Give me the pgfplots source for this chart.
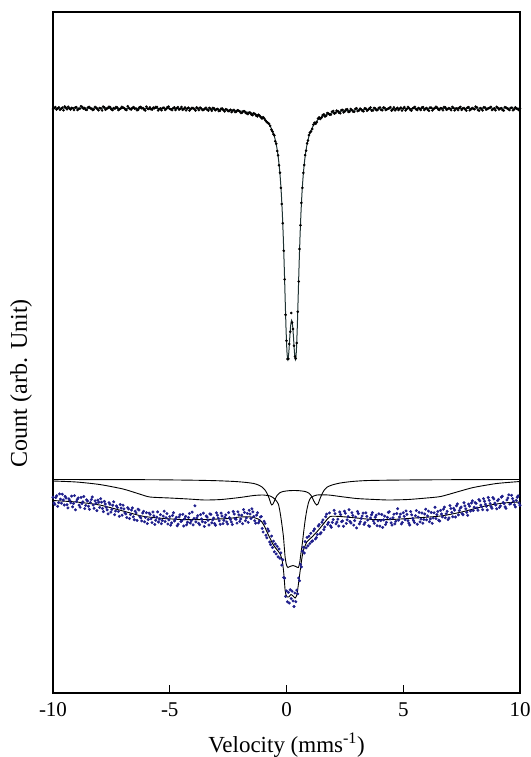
\documentclass[border=0pt]{standalone}
\usepackage{fontspec}
\setmainfont{Liberation Serif}
\usepackage{pgfplots}
\pgfplotsset{compat=1.18}
\definecolor{fitdark}{RGB}{30,50,50}
\definecolor{navydot}{RGB}{30,30,140}
\begin{document}
\begin{tikzpicture}
\begin{axis}[
  scale only axis, width=467pt, height=681pt,
  xmin=-10, xmax=10, ymin=12, ymax=693, y dir=reverse,
  xtick={-10,-5,0,5,10}, xticklabels={-10,-5,0,5,10},
  ytick=\empty, xtick pos=bottom, tick align=inside,
  major tick length=8.5pt,
  axis line style={line width=1.2pt},
  every tick/.style={black, line width=1pt},
  xticklabel style={font=\fontsize{21}{24}\selectfont, yshift=-6pt},
  xlabel={Velocity (mms\textsuperscript{-1})},
  ylabel={Count (arb. Unit)},
  xlabel style={font=\fontsize{23}{26}\selectfont, at={(axis description cs:0.5,0)}, anchor=center, yshift=-52pt},
  ylabel style={font=\fontsize{24}{27}\selectfont, at={(axis description cs:-0.0685,0.455)}, anchor=center},
]
% upper spectrum: measured points (two interleaved sets of channels)
\addplot[only marks, mark=*, mark size=1.1pt, black] table {
x y
-10.0 108.9
-9.9 107.1
-9.8 108.5
-9.7 109.8
-9.6 107.6
-9.5 106.5
-9.4 109.2
-9.3 108.4
-9.2 107.9
-9.1 110.1
-9.0 107.2
-8.9 108.9
-8.8 106.3
-8.7 108.7
-8.6 109.6
-8.5 107.5
-8.4 108.3
-8.3 110.0
-8.2 106.9
-8.1 109.0
-8.0 108.0
-7.9 110.4
-7.8 107.4
-7.7 108.8
-7.6 106.7
-7.5 109.3
-7.4 108.1
-7.3 107.0
-7.2 110.0
-7.1 108.5
-7.0 107.6
-6.9 109.7
-6.8 106.2
-6.7 109.1
-6.6 107.8
-6.5 108.6
-6.4 110.2
-6.3 107.3
-6.2 108.3
-6.1 109.5
-6.0 106.7
-5.9 109.0
-5.8 109.3
-5.7 107.6
-5.6 106.9
-5.5 110.4
-5.4 108.5
-5.3 107.9
-5.2 109.9
-5.1 107.2
-5.0 108.7
-4.9 110.1
-4.8 107.4
-4.7 108.3
-4.6 109.6
-4.5 107.0
-4.4 108.9
-4.3 110.3
-4.2 107.7
-4.1 109.1
-4.0 108.0
-3.9 110.5
-3.8 108.2
-3.7 107.6
-3.6 110.0
-3.5 108.8
-3.4 109.6
-3.3 107.9
-3.2 110.8
-3.1 108.4
-3.0 109.2
-2.9 111.0
-2.8 108.7
-2.7 110.1
-2.6 109.3
-2.5 111.2
-2.4 109.8
-2.3 110.6
-2.2 112.0
-2.1 110.2
-2.0 111.5
-1.9 112.6
-1.8 111.3
-1.7 113.4
-1.6 112.5
-1.5 114.6
-1.4 113.2
-1.3 115.6
-1.2 114.8
-1.1 117.3
-1.0 117.2
-0.9 120.6
-0.8 122.9
-0.7 125.8
-0.6 131.6
-0.56 134.1
-0.52 135.4
-0.48 141.2
-0.44 143.8
-0.40 151.0
-0.36 155.3
-0.32 165.2
-0.28 172.8
-0.24 187.8
-0.20 204.0
-0.16 223.3
-0.12 250.8
-0.08 279.3
-0.04 314.8
0.00 340.8
0.04 359.0
0.08 358.8
0.12 344.0
0.16 331.7
0.20 313.0
0.24 322.6
0.28 329.0
0.32 345.8
0.36 356.5
0.40 358.5
0.44 343.0
0.48 311.8
0.52 281.5
0.56 249.0
0.60 225.2
0.64 202.9
0.68 187.9
0.72 172.9
0.76 164.9
0.80 155.1
0.84 150.7
0.88 143.4
0.92 140.6
0.96 135.1
1.0 132.7
1.1 129.0
1.2 122.8
1.3 122.1
1.4 117.4
1.5 117.6
1.6 114.3
1.7 115.8
1.8 113.6
1.9 114.7
2.0 111.0
2.1 112.9
2.2 111.2
2.3 113.3
2.4 109.9
2.5 111.3
2.6 109.2
2.7 111.8
2.8 110.1
2.9 111.8
3.0 108.2
3.1 110.5
3.2 109.4
3.3 111.3
3.4 108.6
3.5 109.8
3.6 107.5
3.7 110.5
3.8 108.5
3.9 110.0
4.0 107.5
4.1 110.3
4.2 107.9
4.3 109.4
4.4 108.1
4.5 110.6
4.6 107.3
4.7 109.0
4.8 110.0
4.9 107.6
5.0 108.5
5.1 110.4
5.2 107.0
5.3 109.7
5.4 108.3
5.5 106.9
5.6 110.1
5.7 108.8
5.8 107.5
5.9 109.9
6.0 108.0
6.1 110.7
6.2 107.8
6.3 108.9
6.4 106.8
6.5 109.5
6.6 108.2
6.7 110.2
6.8 107.4
6.9 109.1
7.0 108.6
7.1 106.9
7.2 110.3
7.3 108.4
7.4 107.7
7.5 109.8
7.6 108.0
7.7 110.6
7.8 107.2
7.9 109.3
8.0 108.7
8.1 106.6
8.2 109.9
8.3 108.1
8.4 110.4
8.5 107.5
8.6 109.0
8.7 107.9
8.8 110.1
8.9 108.4
9.0 106.8
9.1 109.6
9.2 108.2
9.3 110.5
9.4 107.6
9.5 109.2
9.6 108.0
9.7 110.2
9.8 107.3
9.9 109.0
10.0 108.5
};
\addplot[only marks, mark=*, mark size=1.1pt, black] table {
x y
-9.95 108.0
-9.85 109.6
-9.75 107.3
-9.65 108.8
-9.55 110.2
-9.45 107.7
-9.35 106.8
-9.25 109.4
-9.15 108.2
-9.05 107.5
-8.95 110.0
-8.85 108.6
-8.75 107.0
-8.65 108.1
-8.55 109.9
-8.45 106.9
-8.35 108.8
-8.25 109.5
-8.15 107.8
-8.05 110.3
-7.95 108.4
-7.85 106.6
-7.75 109.7
-7.65 108.0
-7.55 107.2
-7.45 110.1
-7.35 108.7
-7.25 107.5
-7.15 109.2
-7.05 106.8
-6.95 108.3
-6.85 110.0
-6.75 107.9
-6.65 109.4
-6.55 107.1
-6.45 108.5
-6.35 109.8
-6.25 106.9
-6.15 108.0
-6.05 110.4
-5.95 108.6
-5.85 107.4
-5.75 109.6
-5.65 108.2
-5.55 107.0
-5.45 109.1
-5.35 110.2
-5.25 107.7
-5.15 108.9
-5.05 106.6
-4.95 109.3
-4.85 108.1
-4.75 110.0
-4.65 107.2
-4.55 108.7
-4.45 109.8
-4.35 107.5
-4.25 108.4
-4.15 110.5
-4.05 107.9
-3.95 109.0
-3.85 107.3
-3.75 110.1
-3.65 108.5
-3.55 109.9
-3.45 107.8
-3.35 110.6
-3.25 108.9
-3.15 107.9
-3.05 110.3
-2.95 109.0
-2.85 110.8
-2.75 108.6
-2.65 111.4
-2.55 109.6
-2.45 110.9
-2.35 112.1
-2.25 109.9
-2.15 111.8
-2.05 110.6
-1.95 113.0
-1.85 111.2
-1.75 112.9
-1.65 114.1
-1.55 112.8
-1.45 115.2
-1.35 114.0
-1.25 116.4
-1.15 115.7
-1.05 118.6
-0.95 118.5
-0.85 122.0
-0.75 123.7
-0.65 129.6
1.05 131.5
1.15 124.6
1.25 123.7
1.35 118.6
1.45 119.0
1.55 115.1
1.65 116.5
1.75 113.0
1.85 114.6
1.95 111.8
2.05 113.5
2.15 110.6
2.25 112.7
2.35 110.1
2.45 112.4
2.55 109.5
2.65 111.9
2.75 109.0
2.85 111.6
2.95 108.8
3.05 111.1
3.15 108.6
3.25 110.9
3.35 108.2
3.45 110.7
3.55 108.4
3.65 110.6
3.75 107.9
3.85 110.2
3.95 108.1
4.05 109.9
4.15 107.5
4.25 110.1
4.35 108.6
4.45 107.2
4.55 109.4
4.65 110.3
4.75 107.8
4.85 108.7
4.95 110.5
5.05 107.1
5.15 109.0
5.25 108.2
5.35 110.6
5.45 107.7
5.55 109.3
5.65 108.0
5.75 110.1
5.85 107.2
5.95 108.8
6.05 109.7
6.15 107.5
6.25 110.4
6.35 108.3
6.45 107.6
6.55 109.9
6.65 108.4
6.75 107.0
6.85 109.8
6.95 108.1
7.05 110.2
7.15 107.9
7.25 108.6
7.35 110.0
7.45 106.9
7.55 108.5
7.65 109.4
7.75 107.6
7.85 110.3
7.95 108.0
8.05 109.2
8.15 107.4
8.25 110.7
8.35 108.9
8.45 107.3
8.55 109.6
8.65 108.2
8.75 106.9
8.85 109.1
8.95 110.2
9.05 107.8
9.15 108.6
9.25 109.9
9.35 107.1
9.45 108.4
9.55 110.1
9.65 107.7
9.75 109.3
9.85 108.5
9.95 110.0
};
% upper spectrum: fit
\addplot[fitdark, line width=1pt, smooth, tension=0.4] table {
x y
-10 108.15
-6.78 108.3
-4.78 108.55
-3.78 108.9
-2.78 109.6
-2.28 110.4
-1.78 111.6
-1.28 114.5
-0.98 118.2
-0.78 123
-0.68 127
-0.58 132
-0.54 134.8
-0.50 138.1
-0.46 142
-0.42 146.8
-0.38 152.6
-0.34 159.8
-0.30 168.7
-0.26 180
-0.22 194.4
-0.18 212.7
-0.14 235.9
-0.10 264.3
-0.06 296.8
-0.02 328.7
0.02 352
0.06 359.6
0.10 352.1
0.14 337.5
0.18 325.1
0.22 320.4
0.26 325.1
0.30 337.5
0.34 352.1
0.38 359.6
0.42 352
0.46 328.7
0.50 296.8
0.54 264.3
0.58 235.9
0.62 212.7
0.66 194.4
0.70 180
0.74 168.7
0.78 159.8
0.82 152.6
0.86 146.8
0.90 142
0.94 138.1
0.98 134.8
1.02 132
1.12 127
1.22 123
1.42 118.2
1.72 114.5
2.22 111.6
2.72 110.4
3.22 109.6
4.22 108.9
5.22 108.55
7.22 108.3
10 108.15
};
% lower spectrum: measured points (two interleaved sets of channels)
\addplot[only marks, mark=*, mark size=1.3pt, navydot] table {
x y
-10.00 497.2
-9.92 504.3
-9.84 495.8
-9.76 502.6
-9.68 499.1
-9.60 494.2
-9.52 505.0
-9.44 498.0
-9.36 507.9
-9.28 500.4
-9.20 496.1
-9.12 503.5
-9.04 509.8
-8.96 499.3
-8.88 505.1
-8.80 497.4
-8.72 501.9
-8.64 508.6
-8.56 499.8
-8.48 506.2
-8.40 502.5
-8.32 497.0
-8.24 508.3
-8.16 503.2
-8.08 500.1
-8.00 507.4
-7.92 502.2
-7.84 511.6
-7.76 504.0
-7.68 509.9
-7.60 502.7
-7.52 512.1
-7.44 505.3
-7.36 514.7
-7.28 506.0
-7.20 511.5
-7.12 504.5
-7.04 515.2
-6.96 508.9
-6.88 514.0
-6.80 507.7
-6.72 518.5
-6.64 510.1
-6.56 516.8
-6.48 511.2
-6.40 520.4
-6.32 510.0
-6.24 517.9
-6.16 513.0
-6.08 521.8
-6.00 512.7
-5.92 519.5
-5.84 514.3
-5.76 522.6
-5.68 515.8
-5.60 520.3
-5.52 511.9
-5.44 519.0
-5.36 523.7
-5.28 516.1
-5.20 521.5
-5.12 513.6
-5.04 519.9
-4.96 525.2
-4.88 515.5
-4.80 521.0
-4.72 517.3
-4.64 524.1
-4.56 514.8
-4.48 520.6
-4.40 526.0
-4.32 516.4
-4.24 522.2
-4.16 513.5
-4.08 520.8
-4.00 524.9
-3.92 505.8
-3.84 517.9
-3.76 523.3
-3.68 514.6
-3.60 521.7
-3.52 526.4
-3.44 516.0
-3.36 520.3
-3.28 513.9
-3.20 522.8
-3.12 518.1
-3.04 525.3
-2.96 515.2
-2.88 520.9
-2.80 513.1
-2.72 523.6
-2.64 517.4
-2.56 521.9
-2.48 512.6
-2.40 519.6
-2.32 524.5
-2.24 514.0
-2.16 519.3
-2.08 511.8
-2.00 521.4
-1.92 515.2
-1.84 509.6
-1.76 520.7
-1.68 513.4
-1.60 510.3
-1.52 518.5
-1.44 511.9
-1.36 520.8
-1.28 515.1
-1.20 522.9
-1.12 517.0
-1.04 528.4
-0.96 521.3
-0.88 535.2
-0.80 528.9
-0.72 542.0
-0.64 536.1
-0.60 547.5
-0.56 541.2
-0.52 551.8
-0.48 544.0
-0.44 553.9
-0.40 546.3
-0.36 556.8
-0.32 549.0
-0.28 558.2
-0.24 552.9
-0.20 565.1
-0.16 559.7
-0.12 577.5
-0.08 578.2
-0.04 596.4
0.00 590.9
0.04 601.8
0.08 592.4
0.12 603.1
0.16 589.8
0.20 598.5
0.24 591.2
0.28 600.9
0.32 606.5
0.36 593.0
0.40 601.7
0.44 590.1
0.48 593.8
0.52 578.0
0.56 580.7
0.60 564.4
0.64 566.9
0.68 551.1
0.72 547.3
0.76 553.0
0.80 541.6
0.84 547.9
0.88 537.4
0.92 545.8
0.96 536.2
1.00 543.5
1.08 541.6
1.16 530.8
1.24 538.9
1.32 534.5
1.40 524.6
1.48 532.7
1.56 519.9
1.64 527.0
1.72 514.1
1.80 522.5
1.88 525.8
1.96 522.4
2.04 510.3
2.12 523.9
2.20 519.2
2.28 512.0
2.36 521.6
2.44 526.3
2.52 513.2
2.60 519.8
2.68 509.7
2.76 523.0
2.84 515.4
2.92 520.6
3.00 527.9
3.08 513.6
3.16 521.8
3.24 516.0
3.32 524.4
3.40 512.9
3.48 520.1
3.56 526.3
3.64 514.7
3.72 521.0
3.80 517.2
3.88 525.7
3.96 513.8
4.04 520.5
4.12 527.4
4.20 516.1
4.28 522.3
4.36 512.4
4.44 518.9
4.52 525.1
4.60 514.2
4.68 521.3
4.76 508.7
4.84 517.0
4.92 524.0
5.00 512.8
5.08 519.7
5.16 514.4
5.24 523.1
5.32 511.6
5.40 518.3
5.48 522.6
5.56 510.5
5.64 517.1
5.72 521.9
5.80 513.0
5.88 519.4
5.96 509.2
6.04 515.9
6.12 521.7
6.20 512.5
6.28 518.0
6.36 507.3
6.44 514.6
6.52 520.2
6.60 510.4
6.68 516.9
6.76 507.1
6.84 513.8
6.92 519.5
7.00 505.6
7.08 512.4
7.16 508.3
7.24 517.0
7.32 503.9
7.40 510.6
7.48 507.0
7.56 514.8
7.64 505.9
7.72 512.3
7.80 504.1
7.88 511.0
7.96 500.8
8.04 507.3
8.12 503.4
8.20 510.2
8.28 500.9
8.36 506.8
8.44 498.7
8.52 504.2
8.60 510.0
8.68 500.3
8.76 506.5
8.84 497.6
8.92 503.1
9.00 508.8
9.08 499.4
9.16 505.9
9.24 496.2
9.32 503.7
9.40 508.4
9.48 498.0
9.56 504.1
9.64 495.3
9.72 501.2
9.80 506.9
9.88 497.3
9.96 503.0
};
\addplot[only marks, mark=*, mark size=1.3pt, navydot] table {
x y
-9.96 502.9
-9.88 497.5
-9.80 506.3
-9.72 493.9
-9.64 503.2
-9.56 500.0
-9.48 496.4
-9.40 504.7
-9.32 498.8
-9.24 502.9
-9.16 506.8
-9.08 495.6
-9.00 501.5
-8.92 497.9
-8.84 507.2
-8.76 503.6
-8.68 496.5
-8.60 505.4
-8.52 501.0
-8.44 509.3
-8.36 499.6
-8.28 505.0
-8.20 500.8
-8.12 510.6
-8.04 502.3
-7.96 498.7
-7.88 508.5
-7.80 501.4
-7.72 507.3
-7.64 513.9
-7.56 504.2
-7.48 509.4
-7.40 501.8
-7.32 511.0
-7.24 507.6
-7.16 516.3
-7.08 508.1
-7.00 505.2
-6.92 512.9
-6.84 517.6
-6.76 509.0
-6.68 514.5
-6.60 507.9
-6.52 519.7
-6.44 513.0
-6.36 509.1
-6.28 516.6
-6.20 520.9
-6.12 511.3
-6.04 517.4
-5.96 523.5
-5.88 513.1
-5.80 518.8
-5.72 512.0
-5.64 524.4
-5.56 517.2
-5.48 522.0
-5.40 514.7
-5.32 520.5
-5.24 511.2
-5.16 517.8
-5.08 524.0
-5.00 516.6
-4.92 522.9
-4.84 512.7
-4.76 519.4
-4.68 525.8
-4.60 516.9
-4.52 521.5
-4.44 514.3
-4.36 518.7
-4.28 524.8
-4.20 517.5
-4.12 523.0
-4.04 512.1
-3.96 518.4
-3.88 521.9
-3.80 515.6
-3.72 524.7
-3.64 519.0
-3.56 513.2
-3.48 522.5
-3.40 517.1
-3.32 525.0
-3.24 514.4
-3.16 519.9
-3.08 523.6
-3.00 512.8
-2.92 518.2
-2.84 524.3
-2.76 516.0
-2.68 520.4
-2.60 514.9
-2.52 524.0
-2.44 517.7
-2.36 522.0
-2.28 511.5
-2.20 518.6
-2.12 523.1
-2.04 514.8
-1.96 519.0
-1.88 523.7
-1.80 512.4
-1.72 517.9
-1.64 522.3
-1.56 514.0
-1.48 508.8
-1.40 516.4
-1.32 523.2
-1.24 512.7
-1.16 521.0
-1.08 516.6
-1.00 532.0
-0.92 523.4
-0.84 537.8
-0.76 531.0
-0.68 544.6
1.04 533.3
1.12 540.9
1.20 529.0
1.28 537.6
1.36 526.0
1.44 533.9
1.52 522.3
1.60 529.6
1.68 516.8
1.76 524.4
1.84 512.9
1.92 527.3
2.00 519.6
2.08 513.7
2.16 522.1
2.24 526.0
2.32 514.6
2.40 520.9
2.48 511.2
2.56 523.4
2.64 516.6
2.72 521.5
2.80 512.7
2.88 525.1
2.96 517.0
3.04 511.4
3.12 523.9
3.20 518.5
3.28 513.1
3.36 522.7
3.44 516.4
3.52 525.8
3.60 518.0
3.68 512.6
3.76 523.3
3.84 515.2
3.92 520.8
4.00 526.1
4.08 514.5
4.16 519.9
4.24 524.6
4.32 517.4
4.40 511.8
4.48 522.8
4.56 517.8
4.64 523.9
4.72 513.5
4.80 520.2
4.88 514.1
4.96 522.5
5.04 516.3
5.12 510.9
5.20 520.7
5.28 525.0
5.36 514.8
5.44 520.6
5.52 515.7
5.60 524.2
5.68 512.3
5.76 519.1
5.84 523.2
5.92 514.0
6.00 519.8
6.08 511.1
6.16 518.9
6.24 523.3
6.32 512.8
6.40 518.6
6.48 511.4
6.56 521.0
6.64 514.0
6.72 509.2
6.80 517.8
6.88 511.3
6.96 517.9
7.04 508.5
7.12 516.8
7.20 510.2
7.28 505.8
7.36 514.9
7.44 508.1
7.52 513.6
7.60 502.7
7.68 508.8
7.76 515.3
7.84 506.2
7.92 503.0
8.00 510.5
8.08 502.5
8.16 508.0
8.24 499.6
8.32 505.1
8.40 509.7
8.48 501.3
8.56 506.3
8.64 497.5
8.72 503.5
8.80 508.2
8.88 499.0
8.96 505.0
9.04 500.7
9.12 507.4
9.20 497.2
9.28 502.4
9.36 506.8
9.44 499.9
9.52 494.8
9.60 503.6
9.68 498.6
9.76 504.8
9.84 500.4
9.92 495.9
10.00 505.2
};
% lower spectrum: total fit
\addplot[black, line width=0.9pt, smooth, tension=0.4] table {
x y
-10 500.5
-9 502
-8 505
-7 511
-6.2 516
-5.5 518
-4.5 519.5
-3.5 519.5
-2.5 518.5
-2 517
-1.5 517
-1.13 520
-0.95 526
-0.84 531.7
-0.7 538.5
-0.56 545
-0.4 550
-0.27 554
-0.19 560
-0.13 570
-0.09 581
-0.06 590
-0.02 595
0.03 597
0.1 597
0.19 594.5
0.28 596
0.37 598
0.44 595
0.5 586
0.55 577
0.59 570
0.66 558
0.73 550
0.87 542
1.09 537
1.37 530
1.66 521.7
1.87 516.5
2.3 516.5
3 518
3.7 519.5
4.5 519.5
5.5 518
6.6 516
7.5 512
8.5 506
9.3 503
10 502
};
% lower spectrum: component with narrow outer doublet
\addplot[black, line width=0.9pt, smooth, tension=0.4] table {
x y
-10 479.5
-6 479.7
-4 480.2
-3 480.7
-2.2 481.5
-1.7 482.5
-1.4 483.5
-1.2 485
-1.05 487
-0.92 490
-0.82 494
-0.74 498.5
-0.67 503.5
-0.63 505
-0.58 504
-0.5 500
-0.42 496
-0.3 493
-0.15 491.5
0.1 490.7
0.33 490.5
0.55 490.7
0.8 491.5
0.95 493
1.07 496
1.15 500
1.23 503.5
1.29 505
1.35 504
1.43 499
1.52 494
1.62 490
1.75 487
1.95 485
2.3 483
2.8 481.5
3.5 480.5
5 480
7 479.7
10 479.5
};
% lower spectrum: component with broad sextet and central doublet
\addplot[black, line width=0.9pt, smooth, tension=0.4] table {
x y
-10 481
-9 482
-8 484.5
-7 489
-6.3 494
-5.85 497
-5 498
-4.2 499
-3.5 500
-2.8 499.5
-2 497.5
-1.4 495.5
-1.0 495
-0.7 496
-0.5 499
-0.35 504
-0.27 513
-0.2 524
-0.13 537
-0.06 557
0.0 565
0.06 567.5
0.15 566.5
0.28 565.5
0.4 566.5
0.51 567.5
0.57 562
0.62 553
0.68 543
0.73 533
0.8 520
0.87 510
0.95 502
1.05 497.5
1.3 495
1.8 495
2.3 496.5
3 498.5
3.8 499.5
4.4 500
5.2 499.5
6 498
6.6 496.5
7.3 492
8 487.5
9 483.5
10 481.5
};
\end{axis}
\pgfresetboundingbox
\path[use as bounding box] ([shift={(-53pt,-64pt)}]current axis.south west) rectangle ([shift={(11pt,12pt)}]current axis.north east);
\end{tikzpicture}
\end{document}
